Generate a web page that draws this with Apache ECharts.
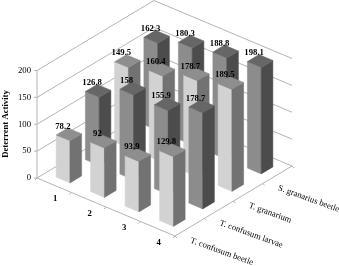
<!DOCTYPE html>
<html><head><meta charset="utf-8">
<style>html,body{margin:0;padding:0;background:#fff}#c{width:339px;height:266px}</style>
<script src="https://cdn.jsdelivr.net/npm/echarts@6/dist/echarts.min.js"></script>
</head><body><div id="c"></div>
<script>
const categories = ['1','2','3','4'];
const seriesNames = ['T. confusum beetle','T. confusum larvae','T. granarium','S. granarius beetle'];
const beetle = [78.2,92,93.9,129.8];
const larvae = [126.8,158,155.9,178.7];
const granarium = [149.5,160.4,178.7,189.5];
const granarius = [162.3,180.3,188.8,198.1];
const valueTicks = [0,50,100,150,200];
const rows = [beetle,larvae,granarium,granarius];

// oblique projection: one category = (34.5,14.5)px, one row = (29.25,-17.5)px, one value unit = .5375px up
const PX = 0.5375, K = 29.25/34.5, A = 14.5/PX, B = 17.5/PX;
const xMax = 4 + 4*K, yMin = -4*A, yMax = 200 + 4*B;
const proj = (api,u,v,val) => api.coord([u + v*K, val - u*A + v*B]);
const BAR = 0.4;
const light = {front:'#d2d2d2', side:'#727272', top:'#8e8e8e'};
const dark = {front:'#8c8c8c', side:'#4c4c4c', top:'#666666'};
const serif = '"Liberation Serif","Times New Roman",serif';
const GRID = '#b4b4b4';
const FS = '8.7px ';

const line = (a,b,color) => ({type:'line',shape:{x1:a[0],y1:a[1],x2:b[0],y2:b[1]},style:{stroke:color,lineWidth:1},silent:true});
const poly = (pts,fill) => ({type:'polygon',shape:{points:pts},style:{fill:fill,stroke:fill,lineWidth:0.5}});
const text = (x,y,s,font,align,rot) => ({type:'text',x:x,y:y,rotation:rot||0,style:{x:0,y:0,text:s,font:font,fill:'#000',align:align,verticalAlign:'middle'}});

function renderFrame(params,api){
  const kids = [];
  valueTicks.forEach(t=>{
    const a=proj(api,0,0,t), b=proj(api,0,4,t), c=proj(api,4,4,t);
    kids.push(line(a,b,GRID), line(b,c,GRID), line([a[0]-3,a[1]],a,GRID));
    kids.push(text(a[0]-6,a[1],String(t),FS+serif,'right'));
  });
  const o=proj(api,0,0,0), f=proj(api,4,0,0), r=proj(api,4,4,0);
  kids.push(line(o,proj(api,0,0,200),GRID), line(o,f,GRID), line(f,r,GRID));
  for(let i=0;i<=4;i++){
    const p=proj(api,i,0,0), q=proj(api,4,i,0);
    kids.push(line(p,[p[0]-2,p[1]+2],GRID), line(q,[q[0]+2,q[1]+2],GRID));
  }
  categories.forEach((c,i)=>{
    const p=proj(api,i+0.5,0,0);
    kids.push(text(p[0]+1,p[1]+14,c,'bold '+FS+serif,'center'));
  });
  seriesNames.forEach((n,i)=>{
    const p=proj(api,4,i+0.5,0);
    kids.push(text(p[0]+1,p[1]+13,n,FS+serif,'left',-20*Math.PI/180));
  });
  kids.push(text(5.5,124,'Deterrent Activity','bold '+FS+serif,'center',Math.PI/2));
  return {type:'group',children:kids};
}

function renderBar(params,api){
  const u=api.value(0), v=api.value(1), val=api.value(2);
  const c = v%2===0 ? light : dark;
  const h=BAR/2, cu=u+0.5, cv=v+0.5;
  const b=(du,dv,z)=>proj(api,cu+du*h,cv+dv*h,z);
  return {type:'group',children:[
    poly([b(-1,-1,0),b(1,-1,0),b(1,-1,val),b(-1,-1,val)],c.front),
    poly([b(1,-1,0),b(1,1,0),b(1,1,val),b(1,-1,val)],c.side),
    poly([b(-1,-1,val),b(1,-1,val),b(1,1,val),b(-1,1,val)],c.top)
  ]};
}

function renderLabel(params,api){
  const u=api.value(0), v=api.value(1), val=api.value(2);
  const p=proj(api,u+0.5,v+0.5,val);
  return text(p[0]-6,p[1]-8,String(val),'bold '+FS+serif,'center');
}

const barData=[];
for(let v=3;v>=0;v--) rows[v].forEach((val,u)=>barData.push([u,v,val]));

const chart=echarts.init(document.getElementById('c'),null,{renderer:'canvas'});
chart.setOption({
  animation:false,
  grid:{left:37,top:0.5,width:255,height:235.5},
  xAxis:{type:'value',min:0,max:xMax,show:false},
  yAxis:{type:'value',min:yMin,max:yMax,show:false},
  series:[
    {type:'custom',silent:true,clip:false,z:1,renderItem:renderFrame,data:[[0,0]]},
    {type:'custom',silent:true,clip:false,z:2,renderItem:renderBar,data:barData,encode:{x:0,y:2}},
    {type:'custom',silent:true,clip:false,z:3,renderItem:renderLabel,data:barData,encode:{x:0,y:2}}
  ]
});
</script></body></html>
